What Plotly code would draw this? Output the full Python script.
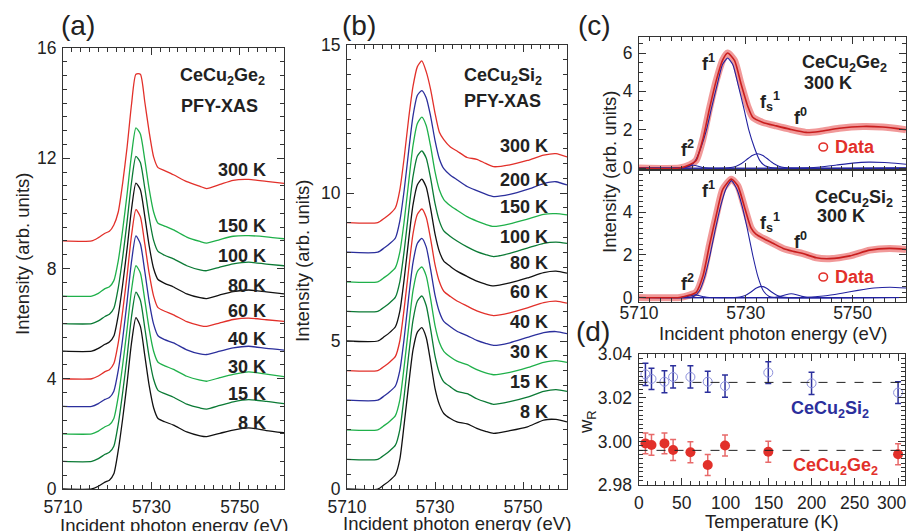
import plotly.graph_objects as go

# ---------------- DATA ----------------
# Panel (a): CeCu2Ge2 PFY-XAS spectra (intensity above each curve's own baseline)
E_A = [5710, 5716.5, 5718, 5719.5, 5720.5, 5721.5, 5722.5, 5723.5, 5724.5, 5725.5, 5726.5,
       5727.5, 5728.5, 5729.5, 5730.5, 5731.5, 5733, 5735, 5738, 5741, 5742.5, 5745.5,
       5748.5, 5752, 5756, 5760]
A_8K = [0, 0, 0.10, 0.25, 0.32, 0.55, 1.40, 2.55, 3.85, 5.30, 6.22, 5.90, 4.85, 3.75, 2.95, 2.56, 2.44, 2.32, 2.07, 1.93, 1.90, 2.02, 2.14, 2.22, 2.12, 2.04]
A_15K = [0, 0, 0.10, 0.26, 0.33, 0.55, 1.35, 2.50, 3.80, 5.25, 6.14, 5.85, 4.85, 3.78, 2.98, 2.58, 2.46, 2.33, 2.08, 1.94, 1.90, 2.03, 2.16, 2.24, 2.18, 2.10]
A_30K = [0, 0, 0.10, 0.26, 0.33, 0.56, 1.35, 2.50, 3.80, 5.22, 6.10, 5.84, 4.86, 3.80, 3.00, 2.60, 2.47, 2.34, 2.09, 1.95, 1.91, 2.04, 2.16, 2.25, 2.17, 2.08]
A_40K = [0, 0, 0.10, 0.25, 0.32, 0.55, 1.30, 2.45, 3.80, 5.25, 6.18, 5.90, 4.90, 3.80, 2.98, 2.56, 2.42, 2.30, 2.05, 1.90, 1.88, 2.00, 2.12, 2.18, 2.10, 2.04]
A_60K = [0, 0, 0.10, 0.26, 0.33, 0.55, 1.30, 2.45, 3.75, 5.20, 6.14, 5.88, 4.90, 3.82, 3.00, 2.58, 2.45, 2.32, 2.07, 1.93, 1.90, 2.03, 2.15, 2.20, 2.14, 2.08]
A_80K = [0, 0, 0.10, 0.25, 0.33, 0.55, 1.30, 2.42, 3.72, 5.15, 6.10, 5.86, 4.90, 3.82, 3.00, 2.60, 2.46, 2.33, 2.08, 1.94, 1.91, 2.04, 2.16, 2.22, 2.15, 2.08]
A_100K = [0, 0, 0.10, 0.26, 0.34, 0.56, 1.30, 2.40, 3.70, 5.12, 6.07, 5.85, 4.92, 3.85, 3.02, 2.62, 2.48, 2.35, 2.10, 1.95, 1.92, 2.05, 2.17, 2.23, 2.16, 2.10]
A_150K = [0, 0, 0.10, 0.27, 0.34, 0.56, 1.28, 2.40, 3.70, 5.12, 6.10, 5.88, 4.95, 3.88, 3.05, 2.64, 2.54, 2.40, 2.14, 1.98, 1.92, 2.05, 2.17, 2.19, 2.15, 2.08]
A_300K = [0, 0, 0.12, 0.28, 0.35, 0.58, 1.05, 2.10, 3.40, 4.95, 6.05, 6.05, 5.05, 3.95, 3.05, 2.66, 2.55, 2.40, 2.15, 1.98, 1.90, 2.05, 2.20, 2.23, 2.16, 2.09]
A_LABELS = ["8 K", "15 K", "30 K", "40 K", "60 K", "80 K", "100 K", "150 K", "300 K"]
A_OFFSETS = [0, 1, 2, 3, 4, 5, 6, 7, 9]

# Panel (b): CeCu2Si2 PFY-XAS spectra
E_B = [5710, 5717, 5718.5, 5719.8, 5721, 5722, 5723, 5724, 5725, 5726, 5727, 5728, 5729,
       5730, 5731, 5732, 5733.5, 5735, 5737.3, 5739.5, 5741.5, 5743.3, 5747, 5751, 5754.7,
       5757.5, 5760]
B_8K = [0, 0, 0.15, 0.30, 0.48, 1.00, 2.20, 3.50, 4.70, 5.30, 5.45, 5.12, 4.30, 3.40, 2.85, 2.55, 2.38, 2.27, 2.20, 2.05, 1.95, 1.88, 1.97, 2.10, 2.33, 2.35, 2.27]
B_15K = [0, 0, 0.15, 0.30, 0.48, 1.00, 2.15, 3.50, 4.70, 5.35, 5.52, 5.20, 4.40, 3.50, 2.92, 2.62, 2.45, 2.30, 2.22, 2.05, 1.94, 1.86, 1.95, 2.10, 2.30, 2.36, 2.30]
B_30K = [0, 0, 0.15, 0.30, 0.48, 1.00, 2.15, 3.45, 4.70, 5.35, 5.50, 5.20, 4.42, 3.52, 2.95, 2.65, 2.46, 2.32, 2.20, 2.03, 1.92, 1.86, 1.94, 2.10, 2.28, 2.34, 2.28]
B_40K = [0, 0, 0.15, 0.30, 0.48, 1.00, 2.10, 3.45, 4.65, 5.30, 5.47, 5.18, 4.42, 3.55, 2.98, 2.66, 2.48, 2.33, 2.18, 2.02, 1.92, 1.85, 1.94, 2.12, 2.28, 2.32, 2.25]
B_60K = [0, 0, 0.15, 0.30, 0.48, 1.00, 2.10, 3.40, 4.62, 5.28, 5.46, 5.18, 4.45, 3.58, 3.00, 2.68, 2.50, 2.35, 2.18, 2.02, 1.92, 1.86, 1.95, 2.12, 2.30, 2.35, 2.28]
B_80K = [0, 0, 0.15, 0.30, 0.48, 1.00, 2.10, 3.40, 4.60, 5.28, 5.47, 5.20, 4.48, 3.62, 3.02, 2.70, 2.52, 2.36, 2.18, 2.02, 1.92, 1.86, 1.96, 2.13, 2.31, 2.36, 2.29]
B_100K = [0, 0, 0.15, 0.30, 0.48, 1.00, 2.05, 3.35, 4.55, 5.25, 5.42, 5.18, 4.50, 3.65, 3.05, 2.72, 2.53, 2.38, 2.18, 2.02, 1.92, 1.85, 1.96, 2.14, 2.30, 2.34, 2.30]
B_150K = [0, 0, 0.15, 0.30, 0.48, 1.00, 2.05, 3.35, 4.60, 5.35, 5.56, 5.28, 4.58, 3.72, 3.10, 2.78, 2.57, 2.42, 2.20, 2.05, 1.94, 1.87, 1.96, 2.12, 2.28, 2.30, 2.26]
B_200K = [0, 0, 0.15, 0.30, 0.48, 1.05, 2.10, 3.40, 4.60, 5.30, 5.46, 5.22, 4.60, 3.78, 3.15, 2.82, 2.60, 2.45, 2.22, 2.08, 1.96, 1.88, 1.95, 2.12, 2.32, 2.38, 2.27]
B_300K = [0, 0, 0.15, 0.30, 0.50, 1.10, 2.20, 3.50, 4.60, 5.27, 5.46, 5.10, 4.50, 3.70, 3.05, 2.80, 2.55, 2.42, 2.20, 2.14, 2.00, 1.89, 1.95, 2.10, 2.28, 2.33, 2.22]
B_LABELS = ["8 K", "15 K", "30 K", "40 K", "60 K", "80 K", "100 K", "150 K", "200 K", "300 K"]
B_OFFSETS = [0, 1, 2, 3, 4, 5, 6, 7, 8, 9]

# Panel (c) top: CeCu2Ge2 300 K data and fit components
GE_E = [5710, 5717.6, 5719.5, 5720.7, 5722, 5723.2, 5724.5, 5725.7, 5726.6, 5727.9, 5729.1,
        5730.4, 5731.3, 5733.2, 5735.7, 5738.2, 5741.3, 5743.8, 5747.5, 5751.9, 5755.6, 5760]
GE_I = [0, 0, 0.17, 0.40, 1.55, 3.10, 4.60, 5.65, 6.00, 5.60, 4.40, 3.20, 2.65, 2.38, 2.20,
        2.03, 1.86, 1.91, 2.08, 2.17, 2.14, 2.00]
GE_F1_E = [5710, 5717.6, 5718.6, 5719.6, 5720.6, 5721.6, 5722.6, 5723.6, 5724.6, 5725.6, 5726.6,
           5727.6, 5728.6, 5729.6, 5730.6, 5731.6, 5732.6, 5733.6, 5734.6, 5735.6, 5760]
GE_F1_I = [0, 0, 0.03, 0.12, 0.40, 1.07, 1.95, 3.15, 4.30, 5.38, 5.74, 5.38, 4.30, 3.15, 1.95,
           1.07, 0.40, 0.12, 0.03, 0, 0]
GE_FS_E = [5710, 5726.2, 5727.2, 5728.2, 5729.2, 5730.2, 5731.2, 5732.2, 5733.2, 5734.2, 5735.2,
           5736.2, 5737.2, 5738.2, 5760]
GE_FS_I = [0, 0, 0.03, 0.10, 0.24, 0.45, 0.66, 0.75, 0.66, 0.45, 0.24, 0.10, 0.03, 0, 0]
GE_F2_E = [5710, 5717.5, 5718.5, 5719.3, 5720.2, 5721.1, 5721.9, 5723, 5760]
GE_F2_I = [0, 0, 0.03, 0.10, 0.15, 0.10, 0.03, 0, 0]
GE_F0_E = [5710, 5740, 5744, 5747, 5750, 5753, 5756, 5758, 5760]
GE_F0_I = [0, 0, 0.06, 0.16, 0.26, 0.31, 0.29, 0.25, 0.20]

# Panel (c) bottom: CeCu2Si2 300 K data and fit components
SI_E = [5710, 5717.6, 5719.5, 5720.7, 5722, 5723.2, 5724.5, 5725.7, 5727.3, 5728.5, 5729.8,
        5731, 5731.9, 5733.2, 5735.1, 5737, 5738.8, 5740.7, 5743.2, 5745.7, 5749.5, 5753.2,
        5756.9, 5760]
SI_I = [0, 0, 0.11, 0.24, 1.03, 2.46, 3.89, 5.08, 5.55, 5.24, 4.20, 3.25, 2.97, 2.78, 2.54,
        2.30, 2.17, 2.06, 1.86, 1.82, 1.95, 2.22, 2.30, 2.25]
SI_F1_E = [5710, 5719.3, 5720.3, 5721.3, 5722.3, 5723.3, 5724.3, 5725.3, 5726.3, 5727.3, 5728.3,
           5729.3, 5730.3, 5731.3, 5732.3, 5733.3, 5734.3, 5735.3, 5760]
SI_F1_I = [0, 0, 0.06, 0.30, 0.95, 1.98, 3.20, 4.30, 5.10, 5.48, 5.10, 4.30, 3.20, 1.98, 0.95,
           0.30, 0.06, 0, 0]
SI_FS_E = [5710, 5727.9, 5728.9, 5729.9, 5730.9, 5731.9, 5732.9, 5733.9, 5734.9, 5735.9, 5736.9, 5737.9, 5760]
SI_FS_I = [0, 0, 0.02, 0.09, 0.24, 0.43, 0.52, 0.43, 0.24, 0.09, 0.02, 0, 0]
SI_F0_E = [5710, 5735.5, 5736.5, 5737.5, 5738.5, 5739.5, 5740.5, 5741.5, 5760]
SI_F0_I = [0, 0.01, 0.05, 0.13, 0.17, 0.13, 0.05, 0.01, 0]
SI_F2_E = [5710, 5717.8, 5718.8, 5719.6, 5720.5, 5721.4, 5722.2, 5723.2, 5760]
SI_F2_I = [0, 0, 0.03, 0.08, 0.12, 0.08, 0.03, 0, 0]
SI_FB_E = [5710, 5741, 5745, 5748, 5751, 5754, 5757, 5760]
SI_FB_I = [0, 0, 0.08, 0.20, 0.33, 0.44, 0.48, 0.44]

# Panel (d): Ce valence w_R vs temperature
T_SI = [8, 15, 30, 40, 60, 80, 100, 150, 200, 300]
W_SI = [3.0308, 3.0287, 3.0274, 3.0296, 3.0296, 3.0274, 3.0254, 3.0316, 3.0267, 3.0224]
ERR_SI = [0.0051, 0.0049, 0.0050, 0.0051, 0.0051, 0.0048, 0.0051, 0.0050, 0.0051, 0.0050]
T_GE = [8, 15, 30, 40, 60, 80, 100, 150, 300]
W_GE = [2.9991, 2.9984, 2.9991, 2.9961, 2.9950, 2.9892, 2.9981, 2.9953, 2.9941]
ERR_GE = [0.0048, 0.0048, 0.0048, 0.0048, 0.0048, 0.0048, 0.0048, 0.0048, 0.0048]
MEAN_SI = 3.0271
MEAN_GE = 2.9959
T_TICKS = [0, 50, 100, 150, 200, 250, 300]

# ---------------- STYLE ----------------
W, H = 911, 531
FONT = "Liberation Sans, Arial, Helvetica, sans-serif"
TXT = "#222222"
AX = "#333333"
RED = "#e2302a"
BLUE = "#2b2f9c"
LGREEN = "#1fb04a"
DGREEN = "#0b7a35"
BLACK = "#111111"
TEMP_COLORS = {"300 K": RED, "200 K": BLUE, "150 K": LGREEN, "100 K": DGREEN, "80 K": BLACK,
               "60 K": RED, "40 K": BLUE, "30 K": LGREEN, "15 K": DGREEN, "8 K": BLACK}


def px(x):
    return x / W


def py(y):
    return 1 - y / H


fig = go.Figure()

A_SERIES = [A_8K, A_15K, A_30K, A_40K, A_60K, A_80K, A_100K, A_150K, A_300K]
for lab, off, vals in zip(A_LABELS, A_OFFSETS, A_SERIES):
    fig.add_trace(go.Scatter(x=E_A, y=[v + off for v in vals], mode="lines",
                             line=dict(color=TEMP_COLORS[lab], width=1.3, shape="spline", smoothing=0.6),
                             xaxis="x", yaxis="y", showlegend=False, hoverinfo="skip"))

B_SERIES = [B_8K, B_15K, B_30K, B_40K, B_60K, B_80K, B_100K, B_150K, B_200K, B_300K]
for lab, off, vals in zip(B_LABELS, B_OFFSETS, B_SERIES):
    fig.add_trace(go.Scatter(x=E_B, y=[v + off for v in vals], mode="lines",
                             line=dict(color=TEMP_COLORS[lab], width=1.3, shape="spline", smoothing=0.6),
                             xaxis="x2", yaxis="y2", showlegend=False, hoverinfo="skip"))


# panel (c)
def add_fit_panel(E, I, comps, xa, ya):
    fig.add_trace(go.Scatter(x=E, y=I, mode="lines",
                             line=dict(color="rgba(230,70,70,0.55)", width=7, shape="spline", smoothing=0.6),
                             xaxis=xa, yaxis=ya, showlegend=False, hoverinfo="skip"))
    for ce, ci in comps:
        fig.add_trace(go.Scatter(x=ce, y=ci, mode="lines",
                                 line=dict(color="#2222a0", width=1.1, shape="spline", smoothing=0.5),
                                 xaxis=xa, yaxis=ya, showlegend=False, hoverinfo="skip"))
    fig.add_trace(go.Scatter(x=E, y=I, mode="lines",
                             line=dict(color="#c81e1e", width=1.6, shape="spline", smoothing=0.6),
                             xaxis=xa, yaxis=ya, showlegend=False, hoverinfo="skip"))


add_fit_panel(GE_E, GE_I, [(GE_F1_E, GE_F1_I), (GE_FS_E, GE_FS_I), (GE_F2_E, GE_F2_I),
                           (GE_F0_E, GE_F0_I)], "x3", "y3")
add_fit_panel(SI_E, SI_I, [(SI_F1_E, SI_F1_I), (SI_FS_E, SI_FS_I), (SI_F0_E, SI_F0_I),
                           (SI_F2_E, SI_F2_I), (SI_FB_E, SI_FB_I)], "x4", "y4")

# panel (d)
fig.add_trace(go.Scatter(x=T_SI, y=W_SI, mode="markers",
                         marker=dict(symbol="circle-open", size=9, color="#8c90dc", line=dict(width=1)),
                         error_y=dict(type="data", array=ERR_SI, color=BLUE, thickness=1.5, width=3),
                         xaxis="x5", yaxis="y5", showlegend=False, hoverinfo="skip"))
fig.add_trace(go.Scatter(x=T_GE, y=W_GE, mode="markers",
                         marker=dict(symbol="circle", size=10, color=RED),
                         error_y=dict(type="data", array=ERR_GE, color="#e86a6a", thickness=1.5, width=3),
                         xaxis="x5", yaxis="y5", showlegend=False, hoverinfo="skip"))
for m in (MEAN_SI, MEAN_GE):
    fig.add_shape(type="line", xref="x5 domain", yref="y5", x0=0, x1=1, y0=m, y1=m,
                  line=dict(color="#222", width=1, dash="dash"))


# ---------------- AXES ----------------
def axis(tick0, dtick, mdtick, **kw):
    base = dict(showline=True, linecolor=AX, linewidth=1.2, mirror="ticks", ticks="inside",
                tickcolor=AX, tickwidth=1, ticklen=7, showgrid=False, zeroline=False,
                automargin=False, tickmode="linear", tick0=tick0, dtick=dtick,
                ticklabelstandoff=2,
                minor=dict(tick0=tick0, dtick=mdtick, ticklen=4, ticks="inside",
                           tickcolor=AX, tickwidth=1, showgrid=False),
                tickfont=dict(size=17.5, color=TXT, family=FONT))
    base.update(kw)
    return base


fig.update_layout(
    width=W, height=H, autosize=False,
    margin=dict(l=0, r=0, t=0, b=0, pad=0),
    paper_bgcolor="white", plot_bgcolor="white",
    font=dict(family=FONT, color=TXT),
    xaxis=axis(5710, 20, 2, domain=[px(63), px(284)], range=[5710, 5760], anchor="y"),
    yaxis=axis(0, 4, 0.5, domain=[py(489), py(48)], range=[0, 16], anchor="x"),
    xaxis2=axis(5710, 20, 2, domain=[px(347), px(567)], range=[5710, 5760], anchor="y2"),
    yaxis2=axis(0, 5, 0.5, domain=[py(489), py(45)], range=[0, 15], anchor="x2"),
    xaxis3=axis(5710, 20, 2, domain=[px(639), px(906)], range=[5710, 5760],
                showticklabels=False, anchor="y3"),
    yaxis3=axis(0, 2, 0.5, domain=[py(170), py(36.7)], range=[-0.1, 6.85], anchor="x3"),
    xaxis4=axis(5710, 20, 2, domain=[px(639), px(906)], range=[5710, 5760], anchor="y4",
                ticklabelstandoff=-5),
    yaxis4=axis(0, 2, 0.25, domain=[py(301.7), py(170)], range=[-0.2, 5.98], anchor="x4"),
    xaxis5=axis(0, 50, 10, domain=[px(638.5), px(905)], range=[0, 308], anchor="y5",
                showticklabels=False),
    yaxis5=axis(2.98, 0.02, 0.002, domain=[py(485), py(354.3)], range=[2.98, 3.04],
                tickformat=".2f", anchor="x5"),
)


# ---------------- TEXT ----------------
def ann(text, x, y, size=18, color=TXT, bold=True, xanchor="center", angle=0):
    fig.add_annotation(text=f"<b>{text}</b>" if bold else text, x=px(x), y=py(y),
                       xref="paper", yref="paper", showarrow=False, xanchor=xanchor,
                       yanchor="middle", textangle=angle,
                       font=dict(size=size, color=color, family=FONT))


# temperature tick labels of panel (d), placed on the axis' own scale
for t in T_TICKS:
    fig.add_annotation(text=str(t), x=t, xref="x5", y=py(502.5), yref="paper",
                       showarrow=False, xanchor="center", yanchor="middle",
                       xshift=-7 if t == T_TICKS[-1] else 0,
                       font=dict(size=17.5, color=TXT, family=FONT))

# panel letters
ann("(a)", 78, 26, size=28, bold=False)
ann("(b)", 359, 25, size=28, bold=False)
ann("(c)", 594, 25, size=28, bold=False)
ann("(d)", 593, 331, size=28, bold=False)

# axis titles
XT = "Incident photon energy (eV)"
ann(XT, 174, 525, size=18.5, bold=False)
ann(XT, 457, 523, size=18.5, bold=False)
ann(XT, 773, 333, size=18.5, bold=False)
ann("Temperature (K)", 772, 521, size=18.5, bold=False)
YT = "Intensity (arb. units)"
ann(YT, 22, 254, size=18.5, bold=False, angle=-90)
ann(YT, 302, 261, size=18.5, bold=False, angle=-90)
ann(YT, 609, 172, size=18.5, bold=False, angle=-90)
ann("w<sub>R</sub>", 587, 422, size=18.5, bold=False, angle=-90)

# panel (a) texts
ann("CeCu<sub>2</sub>Ge<sub>2</sub>", 222, 77)
ann("PFY-XAS", 219, 106)
A_LABEL_Y = [423, 394, 367, 339, 311, 286, 256, 226, 170]
for lab, yy in zip(A_LABELS, A_LABEL_Y):
    ann(lab, 268, yy, xanchor="right")

# panel (b) texts
ann("CeCu<sub>2</sub>Si<sub>2</sub>", 503, 77)
ann("PFY-XAS", 503, 101)
B_LABEL_Y = [412, 382, 352, 322, 292, 263, 237, 207, 180, 146]
for lab, yy in zip(B_LABELS, B_LABEL_Y):
    ann(lab, 550, yy, xanchor="right")

# panel (c) texts
ann("f<sup>1</sup>", 708, 62)
ann("CeCu<sub>2</sub>Ge<sub>2</sub>", 800, 63, xanchor="left")
ann("300 K", 802, 83, xanchor="left")
ann("f<sub>s</sub><sup>1</sup>", 770, 101)
ann("f<sup>0</sup>", 800, 117)
ann("f<sup>2</sup>", 687, 148)
ann("Data", 833, 147, color=RED, xanchor="left")
ann("f<sup>1</sup>", 708, 190)
ann("CeCu<sub>2</sub>Si<sub>2</sub>", 813, 198, xanchor="left")
ann("300 K", 815, 216, xanchor="left")
ann("f<sub>s</sub><sup>1</sup>", 770, 223)
ann("f<sup>0</sup>", 800, 240)
ann("f<sup>2</sup>", 687, 282)
ann("Data", 833, 277, color=RED, xanchor="left")
for cy in (147, 277):
    fig.add_shape(type="circle", xref="paper", yref="paper",
                  x0=px(819), x1=px(827.5), y0=py(cy + 4), y1=py(cy - 4),
                  line=dict(color=RED, width=1.6))

# panel (d) texts
ann("CeCu<sub>2</sub>Si<sub>2</sub>", 830, 409, color=BLUE)
ann("CeCu<sub>2</sub>Ge<sub>2</sub>", 835, 466, color=RED)

fig.write_html("out.html", config={"displayModeBar": False},
               post_script="document.body.style.margin='0';")
